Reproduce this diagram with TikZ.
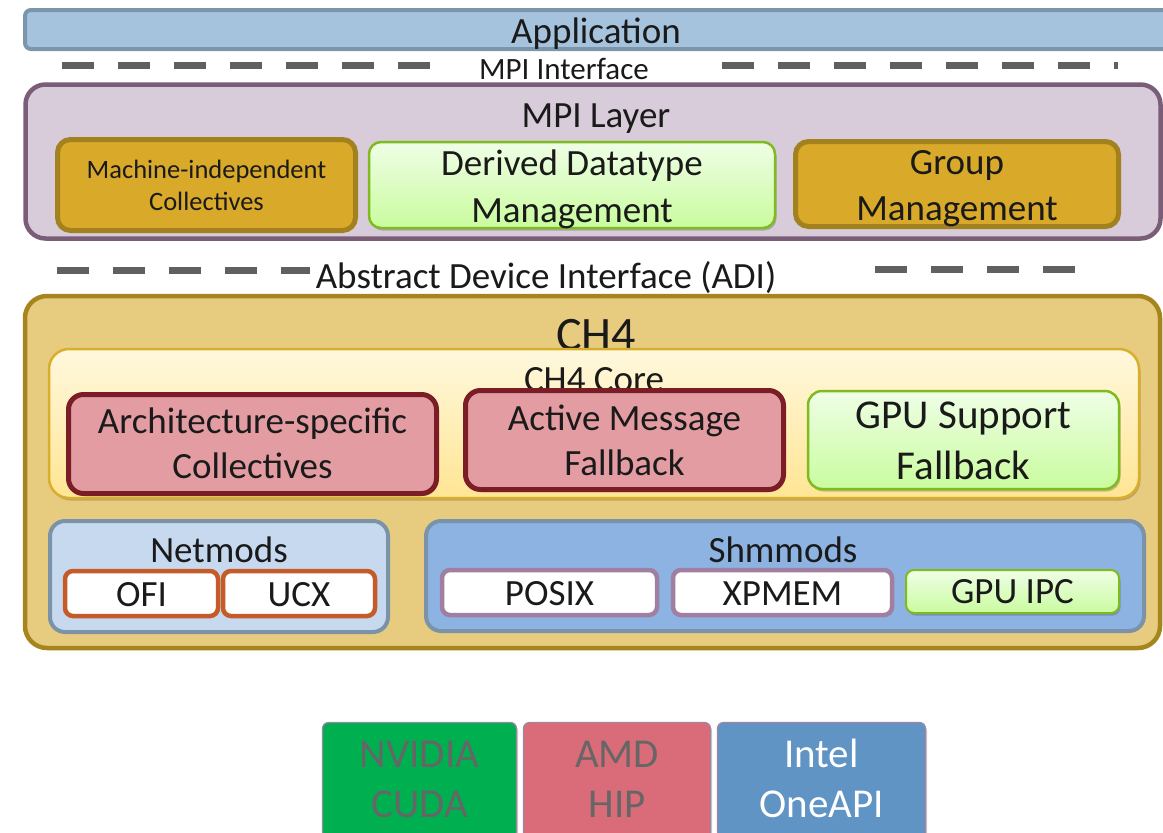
\documentclass[tikz,border=0pt]{standalone}
\usepackage{fontspec}
\setmainfont{Carlito}
\usetikzlibrary{fit,shadows}

\definecolor{appfill}{HTML}{A6C3DE}
\definecolor{appline}{HTML}{7B95AB}
\definecolor{mpifill}{HTML}{D8CCDA}
\definecolor{mpiline}{HTML}{7A5E78}
\definecolor{goldfill}{HTML}{D9A92A}
\definecolor{goldline}{HTML}{A3811E}
\definecolor{greentop}{HTML}{EFFEE6}
\definecolor{greenbot}{HTML}{C9FC9E}
\definecolor{greenline}{HTML}{7FBA1E}
\definecolor{chfill}{HTML}{E7CC80}
\definecolor{chline}{HTML}{A6841E}
\definecolor{coretop}{HTML}{FFF8DE}
\definecolor{corebot}{HTML}{FFE593}
\definecolor{coreline}{HTML}{D9AE2A}
\definecolor{pinkfill}{HTML}{E49CA3}
\definecolor{pinkline}{HTML}{7A1D26}
\definecolor{netfill}{HTML}{C7D9EF}
\definecolor{modline}{HTML}{7B93A8}
\definecolor{shmfill}{HTML}{8DB3E2}
\definecolor{ofiline}{HTML}{C45B28}
\definecolor{posixline}{HTML}{A07FA0}
\definecolor{dashgray}{HTML}{606060}
\definecolor{inktext}{HTML}{1A1A1A}
\definecolor{nvfill}{HTML}{00B050}
\definecolor{amdfill}{HTML}{D96C78}
\definecolor{intelfill}{HTML}{6094C4}
\definecolor{vendline}{HTML}{9E85A3}
\definecolor{dimtext}{HTML}{666666}

\tikzset{
  frame/.style={fit={#1}, inner sep=0pt},
  soft/.style={drop shadow={shadow xshift=1.5pt, shadow yshift=-2.5pt, opacity=0.3, fill=black!70}},
  layerbox/.style={rounded corners=20pt, line width=4.5pt},
  goldbox/.style={draw=goldline, fill=goldfill, rounded corners=13pt, line width=5pt},
  greenbox/.style={draw=greenline, top color=greentop, bottom color=greenbot, rounded corners=12pt, line width=2.5pt, soft},
  pinkbox/.style={draw=pinkline, fill=pinkfill, rounded corners=15pt, line width=5pt, soft},
  modbox/.style={draw=modline, rounded corners=15pt, line width=4pt},
  leafbox/.style={fill=white, rounded corners=8pt, line width=4.5pt},
  vendbox/.style={draw=vendline, rounded corners=6pt, line width=1.2pt, soft},
  sep/.style={draw=dashgray, line width=7pt, dash pattern=on 32pt off 24pt},
  sepshade/.style={draw=black!35, line width=7pt, dash pattern=on 32pt off 24pt, opacity=0.45, xshift=1.5pt, yshift=-2.5pt},
  txt/.style={anchor=base, inner sep=0pt, text=inktext},
  f26/.style={font=\fontsize{26.5}{32}\selectfont},
  f31/.style={font=\fontsize{31}{37}\selectfont},
  f37/.style={font=\fontsize{37}{45.5}\selectfont},
  f41/.style={font=\fontsize{41}{50.5}\selectfont},
  f48/.style={font=\fontsize{48}{56}\selectfont},
}

\begin{document}
\begin{tikzpicture}[x=1pt,y=-1pt]
\useasboundingbox (0,0) rectangle (1163,833);

% ---------- application ----------
\node[frame={(25,10) (1175,49)}, draw=appline, fill=appfill, rounded corners=6pt, line width=4pt] (app) {};
\node[txt, f37] (apptext) at (596,43) {Application};

% ---------- MPI interface separator ----------
\coordinate (mi1) at (62,65);
\coordinate (mi2) at (430,65);
\coordinate (mi3) at (722,65);
\coordinate (mi4) at (1118,65);
\draw[sepshade] (mi1) -- (mi2) (mi3) -- (mi4);
\draw[sep] (mi1) -- (mi2) (mi3) -- (mi4);
\node[txt, f31] (mpiif) at (564,79) {MPI Interface};

% ---------- MPI layer ----------
\node[frame={(25.5,84.5) (1160.5,238.5)}, layerbox, draw=mpiline, fill=mpifill] (mpi) {};
\node[txt, f37] (mpitext) at (596,127) {MPI Layer};
\node[frame={(57.5,139.5) (355.5,230.5)}, goldbox] (micoll) {};
\node[txt, f26] (micoll1) at (206.5,178) {Machine-independent};
\node[txt, f26] (micoll2) at (206.5,210) {Collectives};
\node[frame={(369,142) (775,228)}, greenbox] (ddt) {};
\node[txt, f37] (ddt1) at (572,175) {Derived Datatype};
\node[txt, f37] (ddt2) at (572,222) {Management};
\node[frame={(795.5,141.5) (1118.5,226.5)}, goldbox] (group) {};
\node[txt, f37] (group1) at (957,174) {Group};
\node[txt, f37] (group2) at (957,220) {Management};

% ---------- ADI separator ----------
\coordinate (ad1) at (57,270);
\coordinate (ad2) at (310,270);
\coordinate (ad3) at (875,269);
\coordinate (ad4) at (1075,269);
\draw[sepshade] (ad1) -- (ad2) (ad3) -- (ad4);
\draw[sep] (ad1) -- (ad2) (ad3) -- (ad4);
\node[txt, f37] (adi) at (546,288) {Abstract Device Interface (ADI)};

% ---------- CH4 device ----------
\node[frame={(25,296) (1160,648)}, draw=chline, fill=chfill, rounded corners=22pt, line width=4.5pt] (ch4) {};
\node[txt, f48] (ch4text) at (596,350) {CH4};
\node[frame={(49,349) (1139,498)}, draw=coreline, top color=coretop, bottom color=corebot, rounded corners=20pt, line width=2.5pt, soft] (core) {};
\node[txt, f37] (coretext) at (594,391) {CH4 Core};
\node[frame={(68.5,394.5) (436.5,493.5)}, pinkbox] (arch) {};
\node[txt, f37] (arch1) at (252.5,433) {Architecture-specific};
\node[txt, f37] (arch2) at (252.5,478) {Collectives};
\node[frame={(465.5,390.5) (783.5,489.5)}, pinkbox] (am) {};
\node[txt, f37] (am1) at (624.5,430) {Active Message};
\node[txt, f37] (am2) at (624.5,475) {Fallback};
\node[frame={(808,391) (1119,489)}, greenbox, rounded corners=14pt] (gpufb) {};
\node[txt, f41] (gpufb1) at (963.5,428) {GPU Support};
\node[txt, f41] (gpufb2) at (963.5,479) {Fallback};

% ---------- netmods ----------
\node[frame={(50,521) (388,632)}, modbox, fill=netfill] (net) {};
\node[txt, f37] (nettext) at (219,562) {Netmods};
\node[frame={(65,571) (218,616)}, leafbox, draw=ofiline] (ofi) {};
\node[txt, f37] (ofitext) at (141.5,606) {OFI};
\node[frame={(223,571) (375,616)}, leafbox, draw=ofiline] (ucx) {};
\node[txt, f37] (ucxtext) at (299,606) {UCX};

% ---------- shmmods ----------
\node[frame={(426,521) (1144,631)}, modbox, fill=shmfill] (shm) {};
\node[txt, f37] (shmtext) at (783,562) {Shmmods};
\node[frame={(442,570) (657,615)}, leafbox, draw=posixline] (posix) {};
\node[txt, f37] (posixtext) at (549.5,605) {POSIX};
\node[frame={(673,570) (892,615)}, leafbox, draw=posixline] (xpmem) {};
\node[txt, f37] (xpmemtext) at (782.5,605) {XPMEM};
\node[frame={(906,570) (1119,613)}, draw=greenline, top color=greentop, bottom color=greenbot, rounded corners=8pt, line width=2pt, soft] (gpuipc) {};
\node[txt, f37] (gpuipctext) at (1012.5,603) {GPU IPC};

% ---------- GPU vendor runtimes ----------
\node[frame={(322.5,722.5) (516.5,838)}, vendbox, fill=nvfill] (cuda) {};
\node[txt, f41, text=dimtext] (cuda1) at (419.5,767) {NVIDIA};
\node[txt, f41, text=dimtext] (cuda2) at (419.5,817) {CUDA};
\node[frame={(523.5,722.5) (710.5,838)}, vendbox, fill=amdfill] (hip) {};
\node[txt, f41, text=dimtext] (hip1) at (617,767) {AMD};
\node[txt, f41, text=dimtext] (hip2) at (617,817) {HIP};
\node[frame={(717.5,722.5) (925.5,838)}, vendbox, fill=intelfill] (oneapi) {};
\node[txt, f41, text=white] (oneapi1) at (821.5,767) {Intel};
\node[txt, f41, text=white] (oneapi2) at (821.5,817) {OneAPI};
\end{tikzpicture}
\end{document}
